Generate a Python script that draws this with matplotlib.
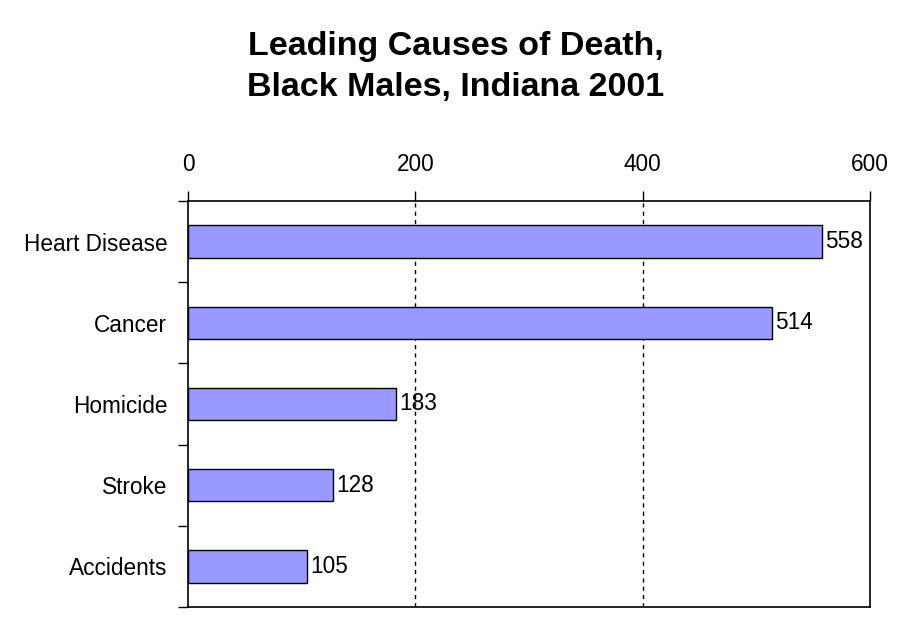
import matplotlib
matplotlib.use('Agg')
import matplotlib.pyplot as plt
from matplotlib.ticker import FixedLocator

plt.rcParams['font.family'] = ['Liberation Sans', 'DejaVu Sans']

# data
causes = ['Heart Disease', 'Cancer', 'Homicide', 'Stroke', 'Accidents']
deaths = [558, 514, 183, 128, 105]
x_ticks = [0, 200, 400, 600]

fig = plt.figure(figsize=(9.12, 6.24), dpi=100)
ax = fig.add_axes([188 / 912, 1 - 607 / 624, (870 - 188) / 912, (607 - 201) / 624])

pos = list(range(len(causes)))
ax.barh(pos, deaths, height=0.4, color='#9999FF', edgecolor='black', linewidth=1, zorder=3)

for p, v in zip(pos, deaths):
    ax.text(v + 2.5, p, str(v), va='center', ha='left', fontsize=16.3, zorder=4)

ax.set_xlim(0, 600)
ax.set_ylim(len(causes) - 0.5, -0.5)

# x axis on top
ax.xaxis.tick_top()
ax.set_xticks(x_ticks)
ax.set_xticklabels([str(t) for t in x_ticks], fontsize=16.3)
ax.tick_params(axis='x', which='major', direction='out', length=7, width=1, pad=11, colors='black')

# category labels at centres, tick marks at boundaries
ax.set_yticks(pos)
ax.set_yticklabels(causes, fontsize=16.3)
ax.yaxis.set_minor_locator(FixedLocator([i - 0.5 for i in range(len(causes) + 1)]))
ax.tick_params(axis='y', which='major', length=0, pad=15)
ax.tick_params(axis='y', which='minor', length=7, width=1, direction='out')

for x in [200, 400]:
    ax.axvline(x, color='black', linestyle=(0, (3, 3)), linewidth=1, zorder=1)

for s in ax.spines.values():
    s.set_linewidth(1.2)
    s.set_color('black')

fig.text(0.5, 1 - 31 / 624, 'Leading Causes of Death,\nBlack Males, Indiana 2001',
         ha='center', va='top', fontsize=24.5, fontweight='bold', linespacing=1.4)

fig.savefig('out.png', dpi=100)
